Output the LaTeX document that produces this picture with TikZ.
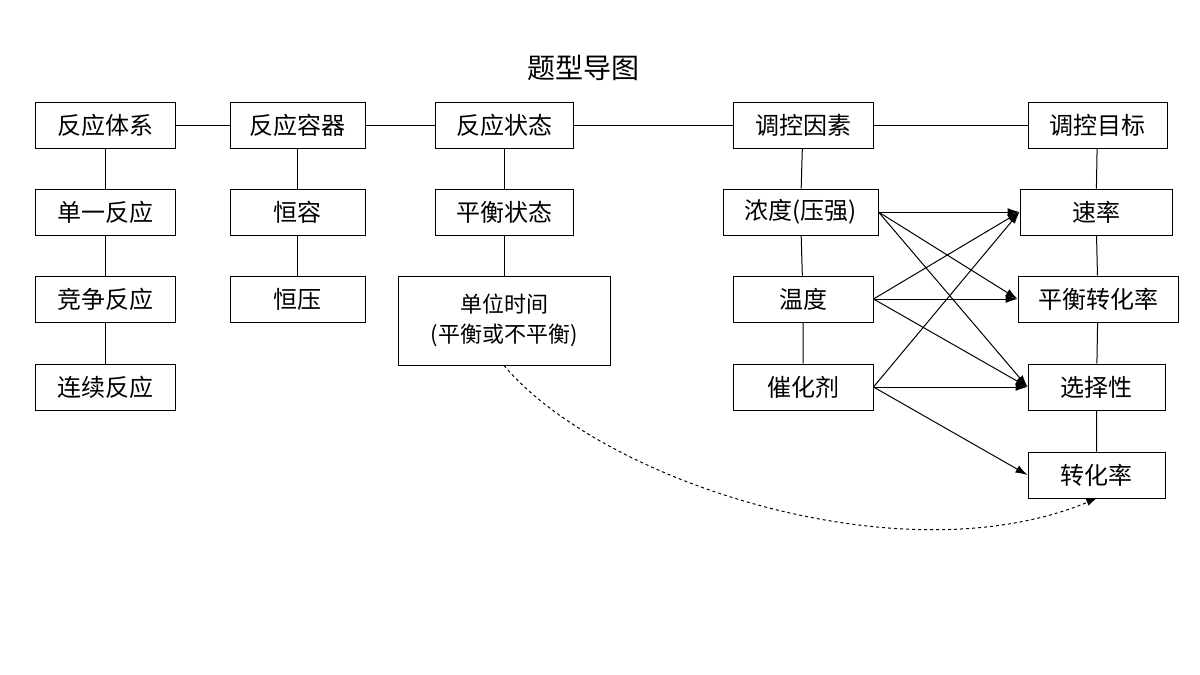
\documentclass[tikz,border=0pt]{standalone}
\usepackage{fontspec}
\setmainfont{Noto Sans CJK SC}
\usetikzlibrary{arrows.meta}
\begin{document}
\begin{tikzpicture}[x=1pt,y=-1pt,
 b/.style={draw,line width=1pt,minimum height=46pt,inner sep=0pt,font=\fontsize{24}{26}\selectfont,align=center},
 l/.style={line width=1pt},
 a/.style={line width=1pt,-{Latex[length=12pt,width=8pt]}}]
\useasboundingbox (0,0) rectangle (1200,675);
\node[font=\fontsize{28}{30}\selectfont] (t) at (583,68) {题型导图};
\node[b,minimum width=140pt] (a1) at (105,125) {反应体系};
\node[b,minimum width=135pt] (b1) at (297.5,125) {反应容器};
\node[b,minimum width=138pt] (c1) at (504,125) {反应状态};
\node[b,minimum width=140pt] (d1) at (803,125) {调控因素};
\node[b,minimum width=139pt] (e1) at (1097.5,125) {调控目标};
\node[b,minimum width=140pt] (a2) at (105,212) {单一反应};
\node[b,minimum width=140pt] (a3) at (105,299) {竞争反应};
\node[b,minimum width=140pt] (a4) at (105,387) {连续反应};
\node[b,minimum width=135pt] (b2) at (297.5,212) {恒容};
\node[b,minimum width=135pt] (b3) at (297.5,299) {恒压};
\node[b,minimum width=138pt] (c2) at (504,212) {平衡状态};
\node[b,minimum width=212pt,minimum height=89pt,font=\fontsize{22}{30}\selectfont] (c3) at (504,320.5) {单位时间\\(平衡或不平衡)};
\node[b,minimum width=155pt] (d2) at (800.5,212) {浓度(压强)};
\node[b,minimum width=140pt] (d3) at (803,299) {温度};
\node[b,minimum width=140pt] (d4) at (803,387) {催化剂};
\node[b,minimum width=152pt] (e2) at (1096,212) {速率};
\node[b,minimum width=160pt] (e3) at (1098,299) {平衡转化率};
\node[b,minimum width=137pt] (e4) at (1096.5,387) {选择性};
\node[b,minimum width=137pt] (e5) at (1096.5,475) {转化率};
\draw[l] (a1)--(b1) (b1)--(c1) (c1)--(d1) (d1)--(e1);
\draw[l] (a1)--(a2) (a2)--(a3) (a3)--(a4);
\draw[l] (b1)--(b2) (b2)--(b3);
\draw[l] (c1)--(c2) (c2)--(c3);
\draw[l] (d1)--(d2) (d2)--(d3) (d3)--(d4);
\draw[l] (e1)--(e2) (e2)--(e3) (e3)--(e4) (e4)--(e5);
\draw[a] (d2.east)--(e2.west);
\draw[a] (d2.east)--(e3.west);
\draw[a] (d2.east)--(e4.west);
\draw[a] (d3.east)--(e2.west);
\draw[a] (d3.east)--(e3.west);
\draw[a] (d3.east)--(e4.west);
\draw[a] (d4.east)--(e2.west);
\draw[a] (d4.east)--(e4.west);
\draw[a] (d4.east)--(e5.west);
\draw[line width=1pt,dashed,-{Latex[length=10pt,width=7pt]}] (c3.south) .. controls (600,480) and (900,580) .. (e5.south);
\end{tikzpicture}
\end{document}
